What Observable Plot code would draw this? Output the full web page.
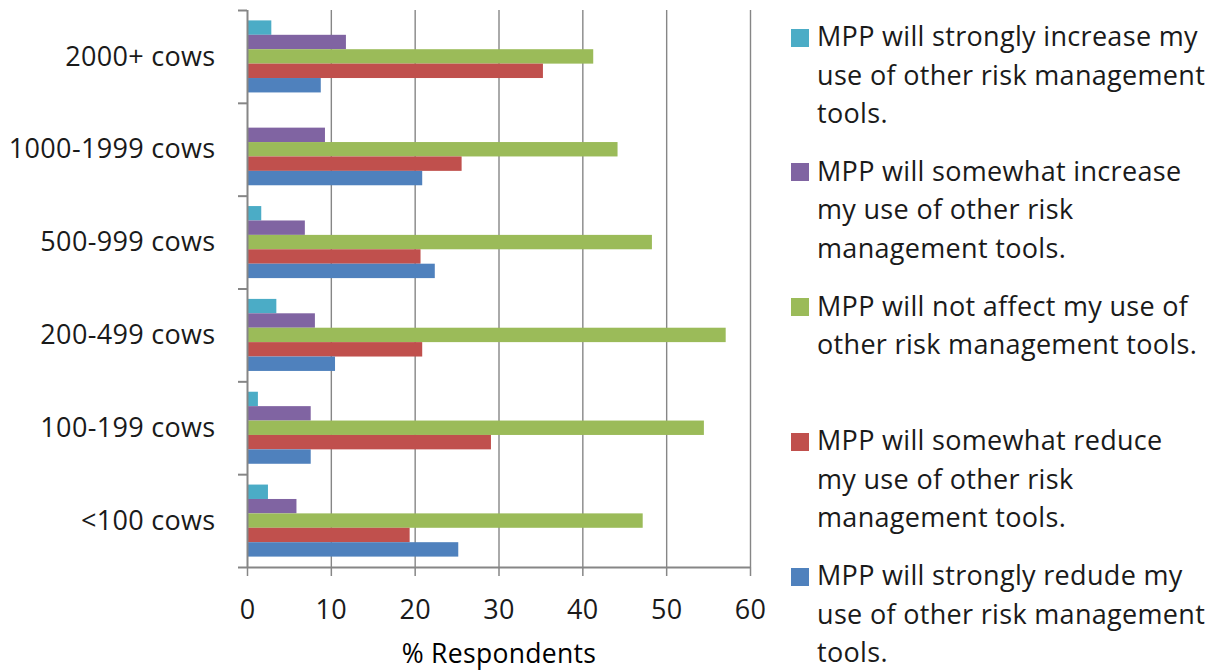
<!DOCTYPE html>
<html>
<head>
<meta charset="utf-8">
<script src="https://cdn.jsdelivr.net/npm/d3@7"></script>
<script src="https://cdn.jsdelivr.net/npm/@observablehq/plot@0.6"></script>
<style>
  html, body { margin: 0; padding: 0; background: #fff; }
  #wrap { position: relative; width: 1231px; height: 671px; font-family: "Open Sans", sans-serif; color: #1a1a1a; }
  #chart { position: absolute; left: 0; top: 0; }
  .entry { position: absolute; left: 817px; font-size: 27px; letter-spacing: 0.32px; line-height: 38.5px; white-space: nowrap; }
  .sw { position: absolute; width: 18px; height: 18px; left: -26px; top: 11.7px; }
</style>
</head>
<body>
<div id="wrap"><div id="chart"></div><div id="legend"></div></div>
<script>
// ---- data (top-to-bottom order as shown) ----
const categories = ["2000+ cows", "1000-1999 cows", "500-999 cows", "200-499 cows", "100-199 cows", "<100 cows"];
const seriesNames = [
  "MPP will strongly increase my use of other risk management tools.",
  "MPP will somewhat increase my use of other risk management tools.",
  "MPP will not affect my use of other risk management tools.",
  "MPP will somewhat reduce my use of other risk management tools.",
  "MPP will strongly redude my use of other risk management tools."
];
const strongIncrease   = [2.9, 0, 1.7, 3.5, 1.3, 2.5];
const somewhatIncrease = [11.8, 9.3, 6.9, 8.1, 7.6, 5.9];
const noEffect         = [41.3, 44.2, 48.3, 57.1, 54.5, 47.2];
const somewhatReduce   = [35.3, 25.6, 20.7, 20.9, 29.1, 19.4];
const strongReduce     = [8.8, 20.9, 22.4, 10.5, 7.6, 25.2];
const xTicks = [0, 10, 20, 30, 40, 50, 60];
const xLabel = "% Respondents";
const legendLines = [
  ["MPP will strongly increase my", "use of other risk management", "tools."],
  ["MPP will somewhat increase", "my use of other risk", "management tools."],
  ["MPP will not affect my use of", "other risk management tools."],
  ["MPP will somewhat reduce", "my use of other risk", "management tools."],
  ["MPP will strongly redude my", "use of other risk management", "tools."]
];
const seriesColors = ["#4BACC6", "#8064A2", "#9BBB59", "#C0504D", "#4F81BD"];

// ---- build table ----
const seriesValues = [strongIncrease, somewhatIncrease, noEffect, somewhatReduce, strongReduce];
const groupPad = 0.112;
const barH = (1 - 2 * groupPad) / seriesNames.length;
const rows = [];
categories.forEach((c, ci) => {
  seriesNames.forEach((s, si) => {
    rows.push({category: c, ci, series: s, si, value: seriesValues[si][ci]});
  });
});
const boundaries = d3.range(categories.length + 1);
const centers = categories.map((c, i) => i + 0.5);

const gray = "#868686";
const chart = Plot.plot({
  width: 770,
  height: 671,
  marginLeft: 247,
  marginRight: 20,
  marginTop: 10,
  marginBottom: 104,
  style: {fontFamily: "'Open Sans', sans-serif", fontSize: "27px", letterSpacing: "0.32px", background: "white", color: "#1a1a1a"},
  x: {domain: [0, 60]},
  y: {domain: [0, categories.length], reverse: true},
  color: {domain: seriesNames, range: seriesColors},
  marks: [
    Plot.ruleX(xTicks.filter(d => d > 0), {stroke: gray, strokeWidth: 1.4}),
    Plot.rect(rows, {
      x1: 0,
      x2: "value",
      y1: d => d.ci + groupPad + d.si * barH,
      y2: d => d.ci + groupPad + (d.si + 1) * barH,
      fill: "series"
    }),
    Plot.ruleX([0], {stroke: gray, strokeWidth: 2}),
    Plot.ruleY([categories.length], {x1: 0, x2: 60, stroke: gray, strokeWidth: 2}),
    Plot.axisY({ticks: boundaries, tickSize: 9, tickFormat: () => "", stroke: gray, strokeWidth: 2}),
    Plot.axisY({ticks: centers, tickSize: 0, tickPadding: 32, fontSize: 27, fill: "#1a1a1a",
                tickFormat: d => categories[Math.floor(d)], label: null}),
    Plot.axisX({ticks: xTicks, tickSize: 9, tickPadding: 23, fontSize: 27, stroke: gray, strokeWidth: 1.5,
                fill: "#1a1a1a", tickFormat: d => String(d), label: null}),
    Plot.text([xLabel], {frameAnchor: "bottom", dy: 95, fontSize: 26.5, fontWeight: 500, fill: "#000", text: d => d})
  ]
});
document.getElementById("chart").appendChild(chart);

// ---- legend ----
const legend = document.getElementById("legend");
const firstTop = 17.0;
const entryStep = 134.75;
legendLines.forEach((lines, i) => {
  const e = document.createElement("div");
  e.className = "entry";
  e.style.top = (firstTop + i * entryStep) + "px";
  const sw = document.createElement("div");
  sw.className = "sw";
  sw.style.background = seriesColors[i];
  e.appendChild(sw);
  lines.forEach(t => {
    const l = document.createElement("div");
    l.textContent = t;
    e.appendChild(l);
  });
  legend.appendChild(e);
});
</script>
</body>
</html>
